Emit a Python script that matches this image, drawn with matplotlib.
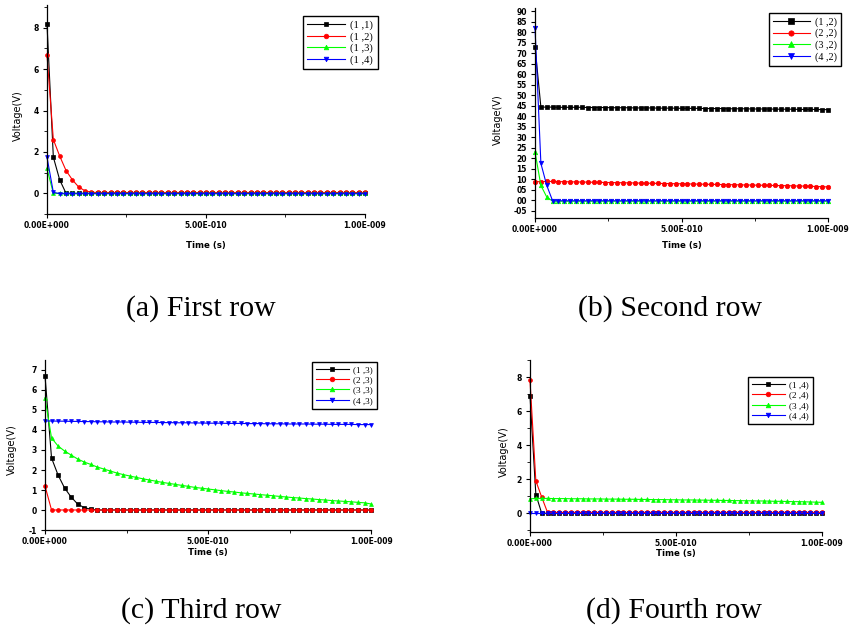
import matplotlib
matplotlib.use("Agg")
import matplotlib.pyplot as plt
from matplotlib.ticker import FixedLocator, MultipleLocator, FuncFormatter

# node voltages sampled every 20 ps over 1 ns
TIME_STEP = 2e-11

# (a) first row
row1_11 = [8.2, 1.75, 0.65, 0.0] + [0.0] * 47
row1_12 = [6.7, 2.6, 1.8, 1.1, 0.65, 0.3, 0.12, 0.05] + [0.04] * 43
row1_13 = [1.2, 0.0] + [0.0] * 49
row1_14 = [1.75, 0.05] + [-0.02] * 49

# (b) second row
row2_12 = [73.0, 44.3, 44.3, 44.3, 44.2, 44.2, 44.2, 44.2, 44.2, 44.1,
           44.1, 44.1, 44.1, 44.0, 44.0, 44.0, 44.0, 43.9, 43.9, 43.9,
           43.9, 43.8, 43.8, 43.8, 43.8, 43.7, 43.7, 43.7, 43.7, 43.6,
           43.6, 43.6, 43.6, 43.5, 43.5, 43.5, 43.5, 43.4, 43.4, 43.4,
           43.4, 43.3, 43.3, 43.3, 43.3, 43.2, 43.2, 43.2, 43.2, 43.1, 43.1]
row2_22 = [8.8, 8.8, 8.9, 8.9, 8.8, 8.8, 8.7, 8.7, 8.6, 8.6,
           8.5, 8.5, 8.4, 8.4, 8.3, 8.3, 8.2, 8.2, 8.1, 8.1,
           8.0, 8.0, 7.9, 7.9, 7.8, 7.8, 7.7, 7.7, 7.6, 7.6,
           7.5, 7.5, 7.4, 7.4, 7.3, 7.3, 7.2, 7.2, 7.1, 7.1,
           7.0, 7.0, 6.9, 6.9, 6.8, 6.7, 6.7, 6.6, 6.5, 6.4, 6.3]
row2_32 = [23.0, 7.0, 1.5] + [-0.5] * 48
row2_42 = [82.0, 17.5, 7.0] + [-0.3] * 48

# (c) third row
row3_13 = [6.7, 2.6, 1.75, 1.1, 0.65, 0.3, 0.12, 0.04] + [0.0] * 43
row3_23 = [1.2, 0.0] + [0.0] * 49
row3_33 = [5.6, 3.6, 3.2, 2.95, 2.75, 2.55, 2.4, 2.28, 2.15, 2.05,
           1.95, 1.85, 1.77, 1.7, 1.63, 1.56, 1.5, 1.44, 1.38, 1.33,
           1.28, 1.23, 1.18, 1.13, 1.09, 1.05, 1.01, 0.97, 0.93, 0.9,
           0.86, 0.83, 0.8, 0.77, 0.74, 0.71, 0.68, 0.65, 0.62, 0.6,
           0.57, 0.55, 0.52, 0.5, 0.47, 0.45, 0.43, 0.41, 0.38, 0.36, 0.3]
row3_43 = [4.45, 4.45, 4.44, 4.44, 4.43, 4.43, 4.42, 4.42, 4.41, 4.41,
           4.4, 4.4, 4.4, 4.39, 4.39, 4.38, 4.38, 4.38, 4.37, 4.37,
           4.36, 4.36, 4.36, 4.35, 4.35, 4.34, 4.34, 4.34, 4.33, 4.33,
           4.33, 4.32, 4.32, 4.32, 4.31, 4.31, 4.31, 4.3, 4.3, 4.3,
           4.3, 4.29, 4.29, 4.29, 4.28, 4.28, 4.28, 4.28, 4.27, 4.27, 4.27]

# (d) fourth row
row4_14 = [6.9, 1.1, 0.0] + [0.0] * 48
row4_24 = [7.8, 1.9, 0.95, 0.05] + [0.05] * 47
row4_34 = [0.85, 0.87, 0.87, 0.87, 0.86, 0.86, 0.86, 0.85, 0.85, 0.85,
           0.84, 0.84, 0.84, 0.83, 0.83, 0.83, 0.82, 0.82, 0.82, 0.81,
           0.81, 0.8, 0.8, 0.8, 0.79, 0.79, 0.78, 0.78, 0.78, 0.77,
           0.77, 0.76, 0.76, 0.75, 0.75, 0.74, 0.74, 0.73, 0.73, 0.72,
           0.72, 0.71, 0.7, 0.7, 0.69, 0.68, 0.68, 0.67, 0.66, 0.65, 0.64]
row4_44 = [0.0] * 51

x_ticks = [0.0, 5e-10, 1e-9]
x_tick_labels = ["0.00E+000", "5.00E-010", "1.00E-009"]

COLORS = ["black", "#ff0000", "#00ff00", "#0000ff"]
MARKERS = ["s", "o", "^", "v"]

panels = [
    dict(series=[row1_11, row1_12, row1_13, row1_14],
         labels=["(1 ,1)", "(1 ,2)", "(1 ,3)", "(1 ,4)"],
         rect=[0.0552, 0.6619, 0.3737, 0.3302], ylim=(-1, 9.1),
         major=2, minor=1, fmt=None, leg=(0.805, 0.947), legsize=7.6, ms=2.8,
         ylab_x=-0.075, xlab_y=-0.129, caption="(a) First row", cap=(201, 309)),
    dict(series=[row2_12, row2_22, row2_32, row2_42],
         labels=["(1 ,2)", "(2 ,2)", "(3 ,2)", "(4 ,2)"],
         rect=[0.6287, 0.6556, 0.3443, 0.3318], ylim=(-8.5, 91.5),
         major=5, minor=None, fmt="two", leg=(0.799, 0.976), legsize=7.3, ms=3.2,
         ylab_x=-0.109, xlab_y=-0.11, caption="(b) Second row", cap=(670, 309)),
    dict(series=[row3_13, row3_23, row3_33, row3_43],
         labels=["(1 ,3)", "(2 ,3)", "(3 ,3)", "(4 ,3)"],
         rect=[0.0529, 0.1627, 0.3831, 0.2686], ylim=(-1, 7.5),
         major=1, minor=None, fmt=None, leg=(0.819, 0.988), legsize=6.6, ms=2.8,
         ylab_x=-0.086, xlab_y=-0.108, caption="(c) Third row", cap=(201, 611)),
    dict(series=[row4_14, row4_24, row4_34, row4_44],
         labels=["(1 ,4)", "(2 ,4)", "(3 ,4)", "(4 ,4)"],
         rect=[0.6228, 0.1596, 0.3431, 0.2717], ylim=(-1.1, 9),
         major=2, minor=1, fmt=None, leg=(0.747, 0.90), legsize=6.6, ms=2.8,
         ylab_x=-0.072, xlab_y=-0.1, caption="(d) Fourth row", cap=(674, 611)),
]


def two_digit(v, pos):
    v = int(round(v))
    return "-%02d" % abs(v) if v < 0 else "%02d" % v


def draw_panel(fig, p):
    ax = fig.add_axes(p["rect"])
    for vals, label, color, marker in zip(p["series"], p["labels"], COLORS, MARKERS):
        t = [i * TIME_STEP for i in range(len(vals))]
        ax.plot(t, vals, color=color, marker=marker, markersize=p["ms"],
                markeredgewidth=0.5, lw=0.8, label=label, clip_on=False)

    ax.set_xlim(0, 1e-9)
    ax.set_ylim(*p["ylim"])
    ax.spines["top"].set_visible(False)
    ax.spines["right"].set_visible(False)
    for s in ("left", "bottom"):
        ax.spines[s].set_linewidth(0.9)

    ax.xaxis.set_major_locator(FixedLocator(x_ticks))
    ax.set_xticklabels(x_tick_labels)
    ax.xaxis.set_minor_locator(FixedLocator([2.5e-10, 7.5e-10]))
    ax.yaxis.set_major_locator(MultipleLocator(p["major"]))
    if p["minor"]:
        ax.yaxis.set_minor_locator(MultipleLocator(p["minor"]))
    if p["fmt"] == "two":
        ax.yaxis.set_major_formatter(FuncFormatter(two_digit))
    else:
        ax.yaxis.set_major_formatter(FuncFormatter(lambda v, pos: "%d" % round(v)))

    ax.tick_params(which="major", direction="out", length=3, width=0.8,
                   labelsize=5.5, pad=3)
    ax.tick_params(axis="x", which="major", pad=2)
    ax.tick_params(which="minor", direction="out", length=2, width=0.6)
    for lab in ax.get_xticklabels() + ax.get_yticklabels():
        lab.set_fontweight("bold")

    ax.set_ylabel("Voltage(V)", fontsize=7)
    ax.yaxis.set_label_coords(p["ylab_x"], 0.47)
    ax.set_xlabel("Time (s)", fontsize=6.2, fontweight="bold")
    ax.xaxis.set_label_coords(0.5, p["xlab_y"])

    leg = ax.legend(loc="upper left", bbox_to_anchor=p["leg"], borderaxespad=0,
                    prop={"family": "Liberation Serif", "size": p["legsize"]},
                    handlelength=3.6, handletextpad=0.5, borderpad=0.4,
                    labelspacing=0.2, markerscale=1.2, fancybox=False,
                    framealpha=1)
    leg.get_frame().set_edgecolor("black")
    leg.get_frame().set_linewidth(1.0)

    fig.text(p["cap"][0] / 851, 1 - p["cap"][1] / 633, p["caption"],
             ha="center", va="center", fontsize=21.5, family="Liberation Serif")


def main():
    fig = plt.figure(figsize=(8.51, 6.33), dpi=100)
    for p in panels:
        draw_panel(fig, p)
    fig.savefig("out.png", dpi=100, facecolor="white")


if __name__ == "__main__":
    main()
